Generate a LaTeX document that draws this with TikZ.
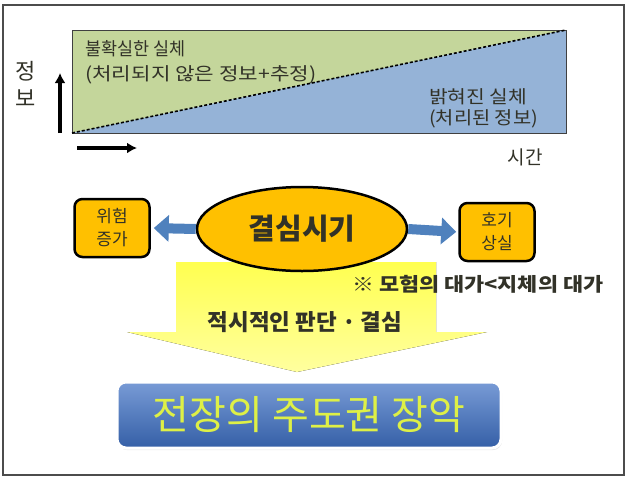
\documentclass[tikz,border=0pt]{standalone}
\usepackage{fontspec}
\setmainfont{Noto Sans CJK KR}
\usetikzlibrary{arrows.meta,shadows,shapes.geometric}
\definecolor{infogreen}{RGB}{196,214,155}
\definecolor{infoblue}{RGB}{149,179,215}
\definecolor{gold}{RGB}{255,192,0}
\definecolor{linkblue}{RGB}{79,129,189}
\definecolor{lemon}{RGB}{255,255,80}
\definecolor{navy}{RGB}{62,112,196}
\definecolor{lime}{RGB}{222,240,70}
\definecolor{inktext}{RGB}{50,50,40}

\begin{document}
\begin{tikzpicture}[x=1pt, y=-1pt, every node/.style={inner sep=0pt, text=inktext},
    infotext/.style={font=\fontsize{18}{25}\selectfont, align=left, anchor=west},
    goldbox/.style={draw=black, line width=2.5pt, fill=gold, rounded corners=8pt, minimum width=75pt, minimum height=58pt, align=center, font=\fontsize{17}{23}\selectfont},
    blockarrow/.style={linkblue, line width=10pt, -{Triangle[length=15pt, width=26pt]}}]
    \useasboundingbox (0,0) rectangle (631,480);
    % Frame
    \draw[gray!60!black, line width=1.5pt] (3,5) rectangle (624,475);

    % Information over time
    \fill[infogreen] (72,133) -- (72,30) -- (566,30) -- cycle;
    \fill[infoblue] (72,133) -- (566,133) -- (566,30) -- cycle;
    \draw[black!75, line width=1pt] (72,30) rectangle (566,133);
    \draw[black, line width=1.6pt, densely dashed] (72,133) -- (566,30);
    \node[infotext] (unknown) at (85,62) {\scalebox{0.97}[1]{불확실한 실체}\\\scalebox{1.18}[1]{(처리되지 않은 정보+추정)}};
    \node[infotext, font=\fontsize{18}{21}\selectfont] (known) at (429,108) {\scalebox{1.13}[1]{밝혀진 실체}\\\scalebox{1.1}[1]{(처리된 정보)}};

    % Axes
    \coordinate (ybot) at (60,133);
    \coordinate (ytop) at (60,73);
    \coordinate (xleft) at (77,148);
    \coordinate (xright) at (137,148);
    \draw[line width=3.5pt, -{Latex[length=10pt, width=11pt]}] (ybot) -- (ytop);
    \draw[line width=3.5pt, -{Latex[length=10pt, width=11pt]}] (xleft) -- (xright);
    \node[font=\fontsize{22}{27}\selectfont, align=center] (info) at (26,84) {정\\보};
    \node[font=\fontsize{19}{23}\selectfont] (time) at (525,157) {시간};

    % Decision
    \fill[top color=lemon, bottom color=lemon!55!white] (176,262) -- (436,262) -- (436,332) -- (487,332) -- (297,372) -- (127,332) -- (176,332) -- cycle;
    \node[draw=black, line width=2.5pt, fill=gold, ellipse, minimum width=210pt, minimum height=84pt, font=\fontsize{29}{31}\selectfont\bfseries] (timing) at (302,229) {결심시기};
    \node[goldbox] (risk) at (112,228) {위험\\증가};
    \node[goldbox] (loss) at (497,232) {호기\\상실};
    \draw[blockarrow, shorten >=3pt] (timing.west) -- (risk.east);
    \draw[blockarrow, shorten >=2pt] (timing.east) -- (loss.west);
    \node[anchor=west, font=\fontsize{19}{22}\selectfont\bfseries] (cost) at (352,284) {\scalebox{1.15}[1]{※ 모험의 대가<지체의 대가}};
    \node[font=\fontsize{22.5}{26}\selectfont\bfseries] (judge) at (305,322) {적시적인 판단 · 결심};

    % Result
    \node[draw=white, line width=3pt, rounded corners=9pt, top color=navy!70!white, bottom color=navy!85!black,
          drop shadow={opacity=0.2, shadow xshift=1pt, shadow yshift=-2pt},
          minimum width=384pt, minimum height=66pt, text=lime, font=\fontsize{40}{44}\selectfont] (lead) at (309,415) {전장의 주도권 장악};
\end{tikzpicture}
\end{document}
